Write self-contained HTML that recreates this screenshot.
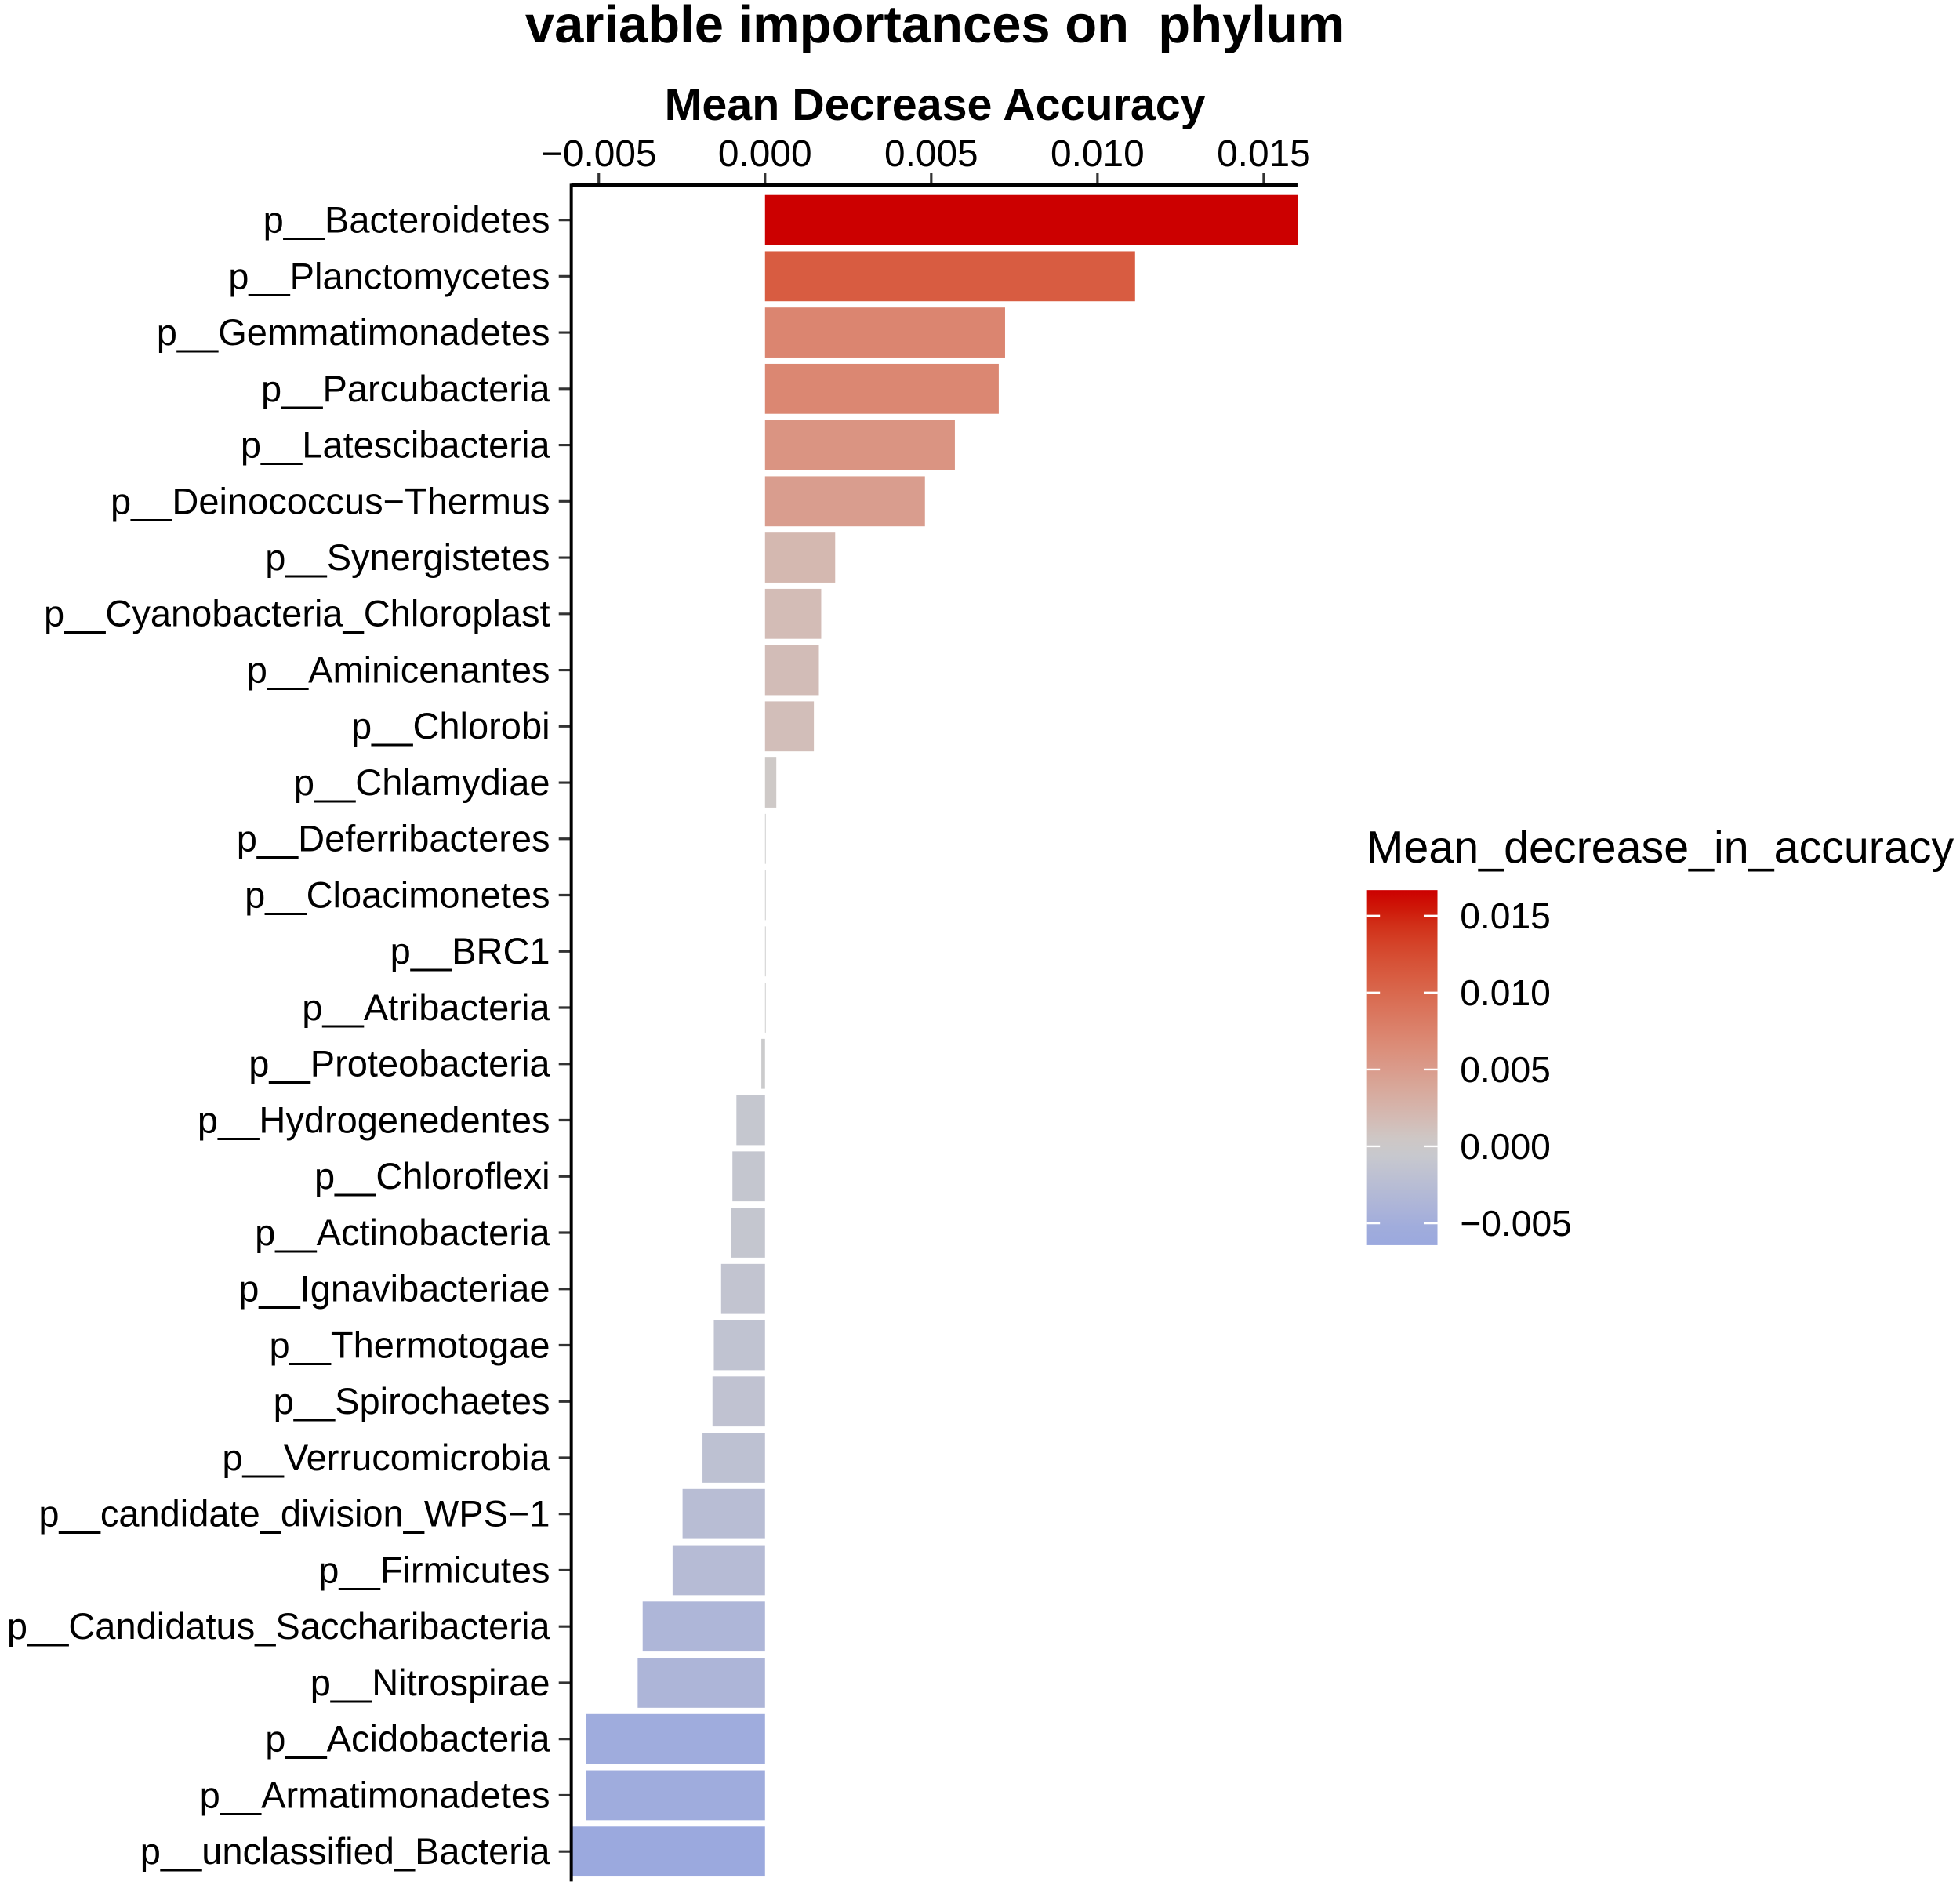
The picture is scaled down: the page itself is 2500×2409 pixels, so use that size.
<!DOCTYPE html>
<html><head><meta charset="utf-8"><style>html,body{margin:0;padding:0;background:#fff}svg{display:block}</style></head>
<body>
<svg width="2500" height="2409" viewBox="0 0 1568 1511" xmlns="http://www.w3.org/2000/svg" font-family="'Liberation Sans', Arial, sans-serif">
<text x="748" y="34" font-size="42" font-weight="bold" text-anchor="middle" xml:space="preserve" style="white-space:pre">variable importances on  phylum</text>
<text x="748" y="96" font-size="36" font-weight="bold" text-anchor="middle">Mean Decrease Accuracy</text>
<g id="plot"></g>
<text x="1093" y="690" font-size="36">Mean_decrease_in_accuracy</text>
<defs><linearGradient id="lg" x1="0" y1="1" x2="0" y2="0"></linearGradient></defs>
<rect x="1093" y="712" width="57" height="284" fill="url(#lg)"/>
<g id="legend"></g>
</svg>
<script>
const categories=["p__Bacteroidetes","p__Planctomycetes","p__Gemmatimonadetes","p__Parcubacteria","p__Latescibacteria","p__Deinococcus\u2212Thermus","p__Synergistetes","p__Cyanobacteria_Chloroplast","p__Aminicenantes","p__Chlorobi","p__Chlamydiae","p__Deferribacteres","p__Cloacimonetes","p__BRC1","p__Atribacteria","p__Proteobacteria","p__Hydrogenedentes","p__Chloroflexi","p__Actinobacteria","p__Ignavibacteriae","p__Thermotogae","p__Spirochaetes","p__Verrucomicrobia","p__candidate_division_WPS\u22121","p__Firmicutes","p__Candidatus_Saccharibacteria","p__Nitrospirae","p__Acidobacteria","p__Armatimonadetes","p__unclassified_Bacteria"];
const values=[0.01602,0.01113,0.00722,0.00703,0.00571,0.00481,0.00211,0.00169,0.00162,0.00147,0.00034,0.00002,0.00001,0.00001,0.000005,-0.00011,-0.00086,-0.00098,-0.00102,-0.00132,-0.00154,-0.00158,-0.00188,-0.00248,-0.00278,-0.00368,-0.00383,-0.00538,-0.00538,-0.00583];
const xTicks=[-0.005,0,0.005,0.010,0.015];
const xTickLabels=["\u22120.005","0.000","0.005","0.010","0.015"];
const legendTicks=[0.015,0.010,0.005,0,-0.005];
const legendTickLabels=["0.015","0.010","0.005","0.000","\u22120.005"];
const NS="http://www.w3.org/2000/svg";
const x=v=>612+v*26600;
const y=i=>176+i*45;
const vmax=Math.max(...values), vmin=Math.min(...values);
function s2l(c){c/=255;return c<=0.04045?c/12.92:Math.pow((c+0.055)/1.055,2.4);}
function l2s(c){c=c<=0.0031308?12.92*c:1.055*Math.pow(c,1/2.4)-0.055;return Math.round(Math.max(0,Math.min(1,c))*255);}
function toLab(rgb){const [r,g,b]=rgb.map(s2l);
 let X=(0.4124*r+0.3576*g+0.1805*b)/0.95047,Y=0.2126*r+0.7152*g+0.0722*b,Z=(0.0193*r+0.1192*g+0.9505*b)/1.08883;
 const f=t=>t>0.008856?Math.cbrt(t):7.787*t+16/116;X=f(X);Y=f(Y);Z=f(Z);
 return [116*Y-16,500*(X-Y),200*(Y-Z)];}
function fromLab(l){let Y=(l[0]+16)/116,X=l[1]/500+Y,Z=Y-l[2]/200;
 const fi=t=>t*t*t>0.008856?t*t*t:(t-16/116)/7.787;X=fi(X)*0.95047;Y=fi(Y);Z=fi(Z)*1.08883;
 const r=3.2406*X-1.5372*Y-0.4986*Z,g=-0.9689*X+1.8758*Y+0.0415*Z,b=0.0557*X-0.2040*Y+1.0570*Z;
 return [l2s(r),l2s(g),l2s(b)];}
const lo=toLab([155,169,222]), mid=toLab([204,204,204]), hi=toLab([204,0,0]);
function col(v){let b,t;if(v>=0){b=hi;t=v/vmax;}else{b=lo;t=v/vmin;}
t=Math.max(0,Math.min(1,t));return "rgb("+fromLab(mid.map((c,k)=>c+(b[k]-c)*t)).join(",")+")";}
function el(t,at,p){const e=document.createElementNS(NS,t);for(const k in at)e.setAttribute(k,at[k]);p.appendChild(e);return e;}
const g=document.getElementById("plot");
categories.forEach((c,i)=>{
 const v=values[i];
 const r=el("rect",{x:Math.min(x(0),x(v)),y:y(i)-20,width:Math.max(Math.abs(x(v)-x(0)),0.6),height:40,fill:col(v)},g);
 
 
 const t=el("text",{x:440,y:y(i)+10,"font-size":29.5,"text-anchor":"end"},g);t.textContent=c;
 
 
 el("line",{x1:447,x2:457,y1:y(i),y2:y(i),stroke:"#333","stroke-width":2},g);
});
xTicks.forEach((v,i)=>{
 el("line",{x1:x(v),x2:x(v),y1:138,y2:148,stroke:"#333","stroke-width":2},g);
 const t=el("text",{x:x(v),y:133,"font-size":30,"text-anchor":"middle"},g);t.textContent=xTickLabels[i];
 
 
});
const ax1=el("line",{x1:457,x2:1038,y1:148,y2:148,stroke:"#000","stroke-width":2.5},g);


const ax2=el("line",{x1:457,x2:457,y1:147,y2:1505,stroke:"#000","stroke-width":2.5},g);


const ly=v=>917-v*12300;
const legTop=712,legBot=996;
const grad=document.getElementById("lg");
const lTop=(917-legTop)/12300, lBot=(917-legBot)/12300;
for(let k=0;k<=20;k++){const v=lBot+(lTop-lBot)*k/20;el("stop",{offset:k/20,"stop-color":col(v)},grad);}
const lg=document.getElementById("legend");
legendTicks.forEach((v,i)=>{
 el("line",{x1:1093,x2:1104,y1:ly(v),y2:ly(v),stroke:"#fff","stroke-width":1.5},lg);
 el("line",{x1:1139,x2:1150,y1:ly(v),y2:ly(v),stroke:"#fff","stroke-width":1.5},lg);
 const t=el("text",{x:1168,y:ly(v)+10,"font-size":29},lg);t.textContent=legendTickLabels[i];
 
 
});
</script>
</body></html>
